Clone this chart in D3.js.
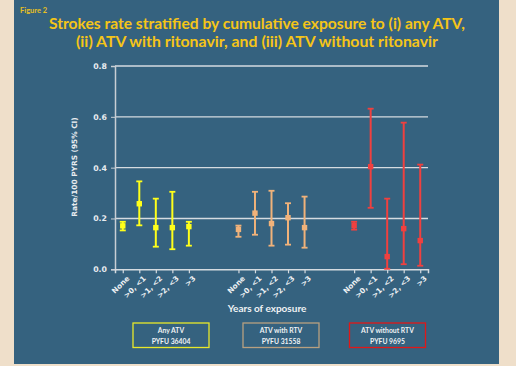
<!DOCTYPE html>
<html><head><meta charset="utf-8">
<script src="https://cdn.jsdelivr.net/npm/d3@7/dist/d3.min.js"></script>
<style>body{margin:0;background:#efdfca;}svg{display:block;}</style>
</head><body>
<svg id="c" width="516" height="366"></svg>
<script>
const exposures = ["None", ">0, <1", ">1, <2", ">2, <3", ">3"];
const groups = ["Any ATV", "ATV with RTV", "ATV without RTV"];
const pyfu = ["PYFU 36404", "PYFU 31558", "PYFU 9695"];
const colors = ["#ffff1a", "#f0b27a", "#f0403f"];
const boxColors = ["#e8e82a", "#b8a080", "#e01818"];
const anyRate = [0.171, 0.258, 0.164, 0.164, 0.168];
const anyLow  = [0.153, 0.173, 0.089, 0.079, 0.093];
const anyHigh = [0.187, 0.346, 0.278, 0.305, 0.187];
const rtvRate = [0.157, 0.221, 0.180, 0.203, 0.164];
const rtvLow  = [0.128, 0.136, 0.093, 0.097, 0.085];
const rtvHigh = [0.172, 0.305, 0.309, 0.260, 0.286];
const noRate = [0.172, 0.404, 0.050, 0.160, 0.113];
const noLow  = [0.156, 0.242, 0.002, 0.020, 0.014];
const noHigh = [0.187, 0.632, 0.278, 0.577, 0.412];
const yTicks = [0.0, 0.2, 0.4, 0.6, 0.8];

const series = [
  {rate: anyRate, low: anyLow, high: anyHigh},
  {rate: rtvRate, low: rtvLow, high: rtvHigh},
  {rate: noRate, low: noLow, high: noHigh}
];
const slots = [];
groups.forEach((g, gi) => {
  exposures.forEach(e => slots.push(gi + "|" + e));
  if (gi < groups.length - 1) { slots.push("gap" + gi + "a"); slots.push("gap" + gi + "b"); }
});
const svg = d3.select("#c");
svg.append("rect").attr("x", 14).attr("y", 0).attr("width", 485).attr("height", 364).attr("fill", "#35627f");

const x = d3.scalePoint().domain(slots).range([115, 428]).padding(0.47);
const y = d3.scaleLinear().domain([0, 0.8]).range([269.3, 66]);

svg.append("text").attr("x", 20).attr("y", 12.5).text("Figure 2")
  .attr("font-family", "Lato").attr("font-weight", "bold").attr("font-size", 7.5).attr("fill", "#e8c020");
const title = ["Strokes rate stratified by cumulative exposure to (i) any ATV,", "(ii) ATV with ritonavir, and (iii) ATV without ritonavir"];
const titleW = [416, 362];
title.forEach((t, i) => svg.append("text").attr("x", 257).attr("y", 29 + i * 18).attr("text-anchor", "middle")
  .attr("font-family", "Lato").attr("font-weight", "bold").attr("font-size", 15).attr("fill", "#f5c518")
  .attr("textLength", titleW[i]).attr("lengthAdjust", "spacingAndGlyphs").text(t));

svg.append("g").selectAll("line").data(yTicks.filter(d => d > 0)).join("line")
  .attr("x1", 115).attr("x2", 428).attr("y1", d => y(d)).attr("y2", d => y(d))
  .attr("stroke", "#d5dbe0").attr("stroke-width", 1.4);

const ya = svg.append("g").attr("transform", "translate(115,0)")
  .call(d3.axisLeft(y).tickValues(yTicks).tickFormat(d3.format(".1f")).tickSize(4));
ya.select(".domain").attr("stroke", "#c8ced4").attr("stroke-width", 1.5);
ya.selectAll(".tick line").attr("stroke", "#c8ced4");
ya.selectAll("text").attr("font-family", "DejaVu Sans").attr("font-weight", "bold").attr("font-size", 7.8).attr("fill", "#e8ecf0").attr("dx", -1);

const xa = svg.append("g").attr("transform", "translate(0,269.3)")
  .call(d3.axisBottom(x).tickValues(slots.filter(s => !s.startsWith("gap"))).tickFormat(s => s.split("|")[1]).tickSize(4));
xa.select(".domain").attr("stroke", "#d5dbe0").attr("stroke-width", 1.5);
xa.selectAll(".tick line").attr("stroke", "#d5dbe0").attr("stroke-width", 1.2);
xa.selectAll("text").attr("font-family", "DejaVu Sans").attr("font-weight", "bold").attr("font-size", 7.3).attr("fill", "#eef1f4")
  .attr("text-anchor", "end").attr("transform", "translate(3,6) rotate(-45)").attr("dy", "0.7em").attr("y", 0).attr("x", 0);

svg.append("text").attr("x", 77).attr("y", 167).attr("transform", "rotate(-90,77,167)").attr("text-anchor", "middle")
  .attr("font-family", "DejaVu Sans").attr("font-weight", "bold").attr("font-size", 7.4).attr("fill", "#e8ecf0").text("Rate/100 PYRS (95% CI)");
svg.append("text").attr("x", 267).attr("y", 312).attr("text-anchor", "middle")
  .attr("font-family", "Lato").attr("font-weight", "bold").attr("font-size", 10).attr("fill", "#f0f2f4").text("Years of exposure");

series.forEach((s, gi) => {
  const g = svg.append("g");
  const data = exposures.map((e, i) => ({k: gi + "|" + e, r: s.rate[i], lo: s.low[i], hi: s.high[i]}));
  g.selectAll(".v").data(data).join("line").attr("x1", d => x(d.k)).attr("x2", d => x(d.k))
    .attr("y1", d => y(d.lo)).attr("y2", d => y(d.hi)).attr("stroke", colors[gi]).attr("stroke-width", 2);
  ["lo", "hi"].forEach(f => g.selectAll(".c" + f).data(data).join("line")
    .attr("x1", d => x(d.k) - 3).attr("x2", d => x(d.k) + 3).attr("y1", d => y(d[f])).attr("y2", d => y(d[f]))
    .attr("stroke", colors[gi]).attr("stroke-width", 1.8));
  g.selectAll("rect").data(data).join("rect").attr("x", d => x(d.k) - 2.7).attr("y", d => y(d.r) - 2.7)
    .attr("width", 5.4).attr("height", 5.4).attr("fill", colors[gi]);
});

const boxX = [133, 243, 349.5];
groups.forEach((g, i) => {
  svg.append("rect").attr("x", boxX[i]).attr("y", 323).attr("width", 76).attr("height", 24.5)
    .attr("fill", "none").attr("stroke", boxColors[i]).attr("stroke-width", 1.3);
  svg.append("text").attr("x", boxX[i] + 38).attr("y", 333).attr("text-anchor", "middle")
    .attr("font-family", "Lato").attr("font-weight", "bold").attr("font-size", 6.8).attr("fill", "#f0f2f4").text(g);
  svg.append("text").attr("x", boxX[i] + 38).attr("y", 343.5).attr("text-anchor", "middle")
    .attr("font-family", "Lato").attr("font-weight", "bold").attr("font-size", 6.8).attr("fill", "#f0f2f4").text(pyfu[i]);
});
</script>
</body></html>
